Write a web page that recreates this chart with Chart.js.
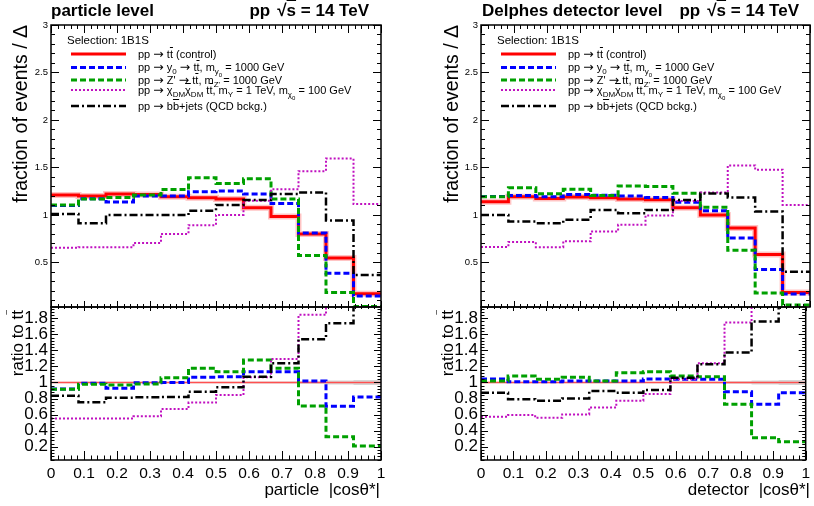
<!DOCTYPE html>
<html>
<head>
<meta charset="utf-8">
<script src="https://cdn.jsdelivr.net/npm/chart.js@4.4.1/dist/chart.umd.min.js"></script>
<style>
  body { margin: 0; background: #fff; }
  #wrap { position: relative; width: 814px; height: 506px; overflow: hidden; font-family: "Liberation Sans", Arial, sans-serif; }
  canvas { position: absolute; }
  .t { position: absolute; white-space: nowrap; line-height: 1; color: #000; }
  .b { font-weight: bold; font-size: 17px; }
  .vt { writing-mode: vertical-rl; transform: rotate(180deg); }
  .leg { font-size: 11px; }
  .o { text-decoration: overline; }
  .ar { font-family: "DejaVu Sans", sans-serif; font-size: 12.5px; }
  .gap { display: inline-block; width: 7px; }
  sub { line-height: 0; font-size: 8px; }
  sub sub { font-size: 6px; }
</style>
</head>
<body>
<div id="wrap">
  <canvas id="partTop" width="407" height="320" style="left:0;top:0"></canvas>
  <canvas id="partRatio" width="407" height="216" style="left:0;top:290px"></canvas>
  <canvas id="detTop" width="407" height="320" style="left:407px;top:0"></canvas>
  <canvas id="detRatio" width="407" height="216" style="left:407px;top:290px"></canvas>

  <!-- left panel texts -->
  <div class="t b" style="left:51px;top:1.6px">particle level</div>
  <div class="t b" style="right:445px;top:1.6px">pp<span class="gap"></span>√<span class="o">s</span> = 14 TeV</div>
  <div class="t vt" style="left:11px;top:25px;font-size:19.5px">fraction of events / Δ</div>
  <div class="t vt" style="left:9px;top:310px;font-size:17px">ratio to t<span class="o">t</span></div>
  <div class="t" style="right:434px;top:480.6px;font-size:17px">particle &nbsp;|cosθ*|</div>
  <div class="t" style="left:67px;top:34.5px;font-size:11.5px">Selection: 1B1S</div>
  <div class="t leg" style="left:138px;top:47.7px">pp <span class="ar">→</span> t<span class="o">t</span> (control)</div>
  <div class="t leg" style="left:138px;top:61.2px">pp <span class="ar">→</span> y<sub>0</sub> <span class="ar">→</span> t<span class="o">t</span>, m<sub>y<sub>0</sub></sub> = 1000 GeV</div>
  <div class="t leg" style="left:138px;top:73.7px">pp <span class="ar">→</span> Z' <span class="ar">→</span> t<span class="o">t</span>, m<sub>Z'</sub> = 1000 GeV</div>
  <div class="t leg" style="left:138px;top:83.7px">pp <span class="ar">→</span> χ<sub>DM</sub><span class="o">χ</span><sub>DM</sub> t<span class="o">t</span>, m<sub>Y</sub> = 1 TeV, m<sub>χ<sub>0</sub></sub> = 100 GeV</div>
  <div class="t leg" style="left:138px;top:99.7px">pp <span class="ar">→</span> b<span class="o">b</span>+jets (QCD bckg.)</div>

  <!-- right panel texts -->
  <div class="t b" style="left:482px;top:1.6px">Delphes detector level</div>
  <div class="t b" style="right:15px;top:1.6px">pp<span class="gap"></span>√<span class="o">s</span> = 14 TeV</div>
  <div class="t vt" style="left:442px;top:25px;font-size:19.5px">fraction of events / Δ</div>
  <div class="t vt" style="left:439px;top:310px;font-size:17px">ratio to t<span class="o">t</span></div>
  <div class="t" style="right:4px;top:480.6px;font-size:17px">detector &nbsp;|cosθ*|</div>
  <div class="t" style="left:497px;top:34.5px;font-size:11.5px">Selection: 1B1S</div>
  <div class="t leg" style="left:568px;top:47.7px">pp <span class="ar">→</span> t<span class="o">t</span> (control)</div>
  <div class="t leg" style="left:568px;top:61.2px">pp <span class="ar">→</span> y<sub>0</sub> <span class="ar">→</span> t<span class="o">t</span>, m<sub>y<sub>0</sub></sub> = 1000 GeV</div>
  <div class="t leg" style="left:568px;top:73.7px">pp <span class="ar">→</span> Z' <span class="ar">→</span> t<span class="o">t</span>, m<sub>Z'</sub> = 1000 GeV</div>
  <div class="t leg" style="left:568px;top:83.7px">pp <span class="ar">→</span> χ<sub>DM</sub><span class="o">χ</span><sub>DM</sub> t<span class="o">t</span>, m<sub>Y</sub> = 1 TeV, m<sub>χ<sub>0</sub></sub> = 100 GeV</div>
  <div class="t leg" style="left:568px;top:99.7px">pp <span class="ar">→</span> b<span class="o">b</span>+jets (QCD bckg.)</div>
</div>

<script>
// Binning in |cos theta*| (12 equal bins) and axis ticks
const binEdges = [0, 0.0833, 0.1667, 0.25, 0.3333, 0.4167, 0.5, 0.5833, 0.6667, 0.75, 0.8333, 0.9167, 1];
const xTickValues = [0, 0.1, 0.2, 0.3, 0.4, 0.5, 0.6, 0.7, 0.8, 0.9, 1];
const topYTicks = [0.5, 1, 1.5, 2, 2.5, 3];
const ratioYTicks = [0.2, 0.4, 0.6, 0.8, 1, 1.2, 1.4, 1.6, 1.8];

// Particle level, fraction of events / bin width
const partControl = [1.21, 1.20, 1.22, 1.215, 1.19, 1.18, 1.167, 1.076, 0.983, 0.80, 0.545, 0.17];
const partY0 = [1.10, 1.17, 1.135, 1.20, 1.20, 1.243, 1.253, 1.219, 1.12, 0.81, 0.385, 0.146];
const partZprime = [1.104, 1.167, 1.184, 1.21, 1.267, 1.392, 1.33, 1.382, 1.167, 0.573, 0.184, 0.036];
const partDM = [0.653, 0.66, 0.66, 0.705, 0.80, 0.892, 1.0, 1.149, 1.27, 1.46, 1.594, 1.115];
const partBB = [1.01, 0.913, 1.0, 1.0, 1.0, 1.045, 1.104, 1.156, 1.219, 1.236, 0.94, 0.368];

// Particle level, ratio to ttbar
const partRatioY0 = [0.92, 0.99, 0.927, 0.998, 1.0, 1.065, 1.07, 1.135, 1.135, 1.02, 0.703, 0.82];
const partRatioZprime = [0.915, 0.977, 0.97, 0.98, 1.06, 1.177, 1.135, 1.28, 1.177, 0.707, 0.325, 0.21];
const partRatioDM = [0.553, 0.553, 0.553, 0.58, 0.67, 0.75, 0.844, 1.065, 1.293, 1.842, 2.92, 6.5];
const partRatioBB = [0.836, 0.753, 0.81, 0.815, 0.82, 0.885, 0.94, 1.07, 1.24, 1.54, 1.737, 2.16];

// Delphes detector level, fraction of events / bin width
const detControl = [1.139, 1.19, 1.174, 1.188, 1.18, 1.167, 1.16, 1.076, 1.0, 0.861, 0.583, 0.184];
const detY0 = [1.194, 1.205, 1.19, 1.215, 1.208, 1.2, 1.184, 1.132, 1.045, 0.757, 0.424, 0.167];
const detZprime = [1.19, 1.285, 1.222, 1.27, 1.205, 1.305, 1.30, 1.229, 1.08, 0.628, 0.177, 0.05];
const detDM = [0.663, 0.715, 0.66, 0.722, 0.826, 0.896, 0.993, 1.146, 1.236, 1.52, 1.476, 1.104];
const detBB = [1.0, 0.93, 0.913, 0.948, 1.052, 1.017, 1.052, 1.156, 1.226, 1.184, 1.035, 0.40];

// Delphes detector level, ratio to ttbar
const detRatioY0 = [1.044, 1.01, 1.01, 1.02, 1.02, 1.02, 1.044, 1.04, 1.04, 0.886, 0.73, 0.873];
const detRatioZprime = [1.02, 1.08, 1.04, 1.065, 1.02, 1.12, 1.135, 1.08, 1.07, 0.728, 0.312, 0.262];
const detRatioDM = [0.574, 0.595, 0.56, 0.603, 0.69, 0.774, 0.857, 1.04, 1.24, 1.746, 2.53, 6.0];
const detRatioBB = [0.873, 0.79, 0.774, 0.8, 0.894, 0.873, 0.907, 1.06, 1.227, 1.372, 1.758, 2.17];

// control sample in the ratio pad, with its uncertainty band
const ratioControl = [1, 1, 1, 1, 1, 1, 1, 1, 1, 1, 1, 1];
const ratioBandHi = [1.01, 1.01, 1.01, 1.01, 1.01, 1.01, 1.01, 1.012, 1.012, 1.015, 1.025, 1.03];
const ratioBandLo = [0.99, 0.99, 0.99, 0.99, 0.99, 0.99, 0.99, 0.988, 0.988, 0.985, 0.975, 0.97];

const FONT = '"Liberation Sans", Arial, sans-serif';

const lineStyles = {
    control: { borderColor: "#ff0000", borderWidth: 3, borderDash: [] },
    y0: { borderColor: "#0000ff", borderWidth: 3, borderDash: [6, 3] },
    zprime: { borderColor: "#00a000", borderWidth: 3, borderDash: [6, 3] },
    dm: { borderColor: "#c010c0", borderWidth: 2, borderDash: [2, 2] },
    bb: { borderColor: "#000000", borderWidth: 2.5, borderDash: [8, 3, 2, 3] }
};
const legendOrder = ["control", "y0", "zprime", "dm", "bb"];
const legendLineY = [54, 67.5, 80, 90, 106];

// histogram outline: two points per bin
function histo(values) {
    const pts = [];
    values.forEach((v, i) => {
        pts.push({ x: binEdges[i], y: v }, { x: binEdges[i + 1], y: v });
    });
    return pts;
}

function ds(values, style, order) {
    return Object.assign({
        data: histo(values),
        pointRadius: 0,
        fill: false,
        tension: 0,
        borderCapStyle: "butt",
        order: order
    }, style);
}

// ROOT-like frame with inward ticks on all four sides
const rootFrame = {
    id: "rootFrame",
    afterDatasetsDraw(chart, args, o) {
        const ctx = chart.ctx;
        const a = chart.chartArea;
        const xs = chart.scales.x;
        const ys = chart.scales.y;
        ctx.save();
        ctx.strokeStyle = "#000";
        ctx.lineWidth = 1;
        ctx.setLineDash([]);
        ctx.beginPath();
        const nx = Math.round(1 / o.xMinor);
        for (let k = 0; k <= nx; k++) {
            const px = Math.round(xs.getPixelForValue(k * o.xMinor)) + 0.5;
            const major = k % o.xPer === 0;
            const lb = major ? o.xBottom : o.xBottom / 2;
            const lt = major ? o.xTop : o.xTop / 2;
            ctx.moveTo(px, a.bottom);
            ctx.lineTo(px, a.bottom - lb);
            ctx.moveTo(px, a.top);
            ctx.lineTo(px, a.top + lt);
        }
        const k0 = Math.ceil(ys.min / o.yMinor - 1e-6);
        const k1 = Math.floor(ys.max / o.yMinor + 1e-6);
        for (let k = k0; k <= k1; k++) {
            const py = Math.round(ys.getPixelForValue(k * o.yMinor)) + 0.5;
            const len = k % o.yPer === 0 ? o.yMajor : o.yMajor / 2;
            ctx.moveTo(a.left, py);
            ctx.lineTo(a.left + len, py);
            ctx.moveTo(a.right, py);
            ctx.lineTo(a.right - len, py);
        }
        ctx.stroke();
        ctx.lineWidth = 1.5;
        ctx.strokeRect(a.left, a.top, a.width, a.height);
        ctx.restore();
    }
};

// legend sample lines (texts are html)
const legendLines = {
    id: "legendLines",
    afterDatasetsDraw(chart) {
        const ctx = chart.ctx;
        const x0 = chart.chartArea.left + 20;
        ctx.save();
        legendOrder.forEach((key, i) => {
            const st = lineStyles[key];
            ctx.strokeStyle = st.borderColor;
            ctx.lineWidth = st.borderWidth;
            ctx.setLineDash(st.borderDash);
            ctx.beginPath();
            ctx.moveTo(x0, legendLineY[i]);
            ctx.lineTo(x0 + 55, legendLineY[i]);
            ctx.stroke();
        });
        ctx.restore();
    }
};

function makeChart(id, datasets, cfg) {
    return new Chart(document.getElementById(id), {
        type: "line",
        data: { datasets: datasets },
        options: {
            responsive: false,
            animation: false,
            events: [],
            layout: { padding: cfg.padding },
            plugins: {
                legend: { display: false },
                tooltip: { enabled: false },
                rootFrame: cfg.frame
            },
            scales: {
                x: {
                    type: "linear",
                    min: 0,
                    max: 1,
                    display: cfg.showX,
                    grid: { display: false, drawTicks: false },
                    border: { display: false },
                    afterBuildTicks: (s) => { s.ticks = xTickValues.map((v) => ({ value: v })); },
                    afterFit: (s) => { s.height = cfg.xHeight; },
                    ticks: {
                        autoSkip: false,
                        maxRotation: 0,
                        padding: 4,
                        color: "#000",
                        font: { family: FONT, size: 15.5 },
                        callback: (v) => String(v)
                    }
                },
                y: {
                    type: "linear",
                    min: cfg.yMin,
                    max: cfg.yMax,
                    grid: { display: false, drawTicks: false },
                    border: { display: false },
                    afterBuildTicks: (s) => { s.ticks = cfg.yTicks.map((v) => ({ value: v })); },
                    afterFit: (s) => { s.width = cfg.yWidth; },
                    ticks: {
                        autoSkip: false,
                        padding: 3,
                        color: "#000",
                        font: { family: FONT, size: cfg.yFont },
                        callback: (v) => String(v)
                    }
                }
            }
        },
        plugins: cfg.legend ? [rootFrame, legendLines] : [rootFrame]
    });
}

function topDatasets(control, y0, zp, dm, bb) {
    return [
        ds(control, { borderColor: "rgba(255,60,60,0.3)", borderWidth: 6, borderDash: [] }, 7),
        ds(control, lineStyles.control, 5),
        ds(y0, lineStyles.y0, 4),
        ds(zp, lineStyles.zprime, 3),
        ds(dm, lineStyles.dm, 2),
        ds(bb, lineStyles.bb, 1)
    ];
}

function ratioDatasets(y0, zp, dm, bb) {
    return [
        { data: histo(ratioBandHi), borderWidth: 0, pointRadius: 0, fill: "+1", backgroundColor: "rgba(150,150,150,0.4)", order: 9 },
        { data: histo(ratioBandLo), borderWidth: 0, pointRadius: 0, fill: false, order: 10 },
        ds(ratioControl, { borderColor: "#ff5050", borderWidth: 1.5, borderDash: [] }, 6),
        ds(y0, lineStyles.y0, 4),
        ds(zp, lineStyles.zprime, 3),
        ds(dm, lineStyles.dm, 2),
        ds(bb, lineStyles.bb, 1)
    ];
}

const topFrame = { xMinor: 0.02, xPer: 5, xBottom: 6, xTop: 8, yMinor: 0.1, yPer: 5, yMajor: 8 };
const ratioFrame = { xMinor: 0.02, xPer: 5, xBottom: 9, xTop: 4, yMinor: 0.04, yPer: 5, yMajor: 7 };

makeChart("partTop", topDatasets(partControl, partY0, partZprime, partDM, partBB), {
    padding: { top: 25, bottom: 13, left: 0, right: 26 },
    showX: false, xHeight: 0, yMin: 0.03, yMax: 3, yTicks: topYTicks, yWidth: 51, yFont: 9.5,
    frame: topFrame, legend: true
});
makeChart("partRatio", ratioDatasets(partRatioY0, partRatioZprime, partRatioDM, partRatioBB), {
    padding: { top: 17, bottom: 0, left: 0, right: 26 },
    showX: true, xHeight: 46, yMin: 0.035, yMax: 1.94, yTicks: ratioYTicks, yWidth: 51, yFont: 17,
    frame: ratioFrame, legend: false
});
makeChart("detTop", topDatasets(detControl, detY0, detZprime, detDM, detBB), {
    padding: { top: 25, bottom: 13, left: 0, right: 4 },
    showX: false, xHeight: 0, yMin: 0.03, yMax: 3, yTicks: topYTicks, yWidth: 74, yFont: 9.5,
    frame: topFrame, legend: true
});
makeChart("detRatio", ratioDatasets(detRatioY0, detRatioZprime, detRatioDM, detRatioBB), {
    padding: { top: 17, bottom: 0, left: 0, right: 4 },
    showX: true, xHeight: 46, yMin: 0.035, yMax: 1.94, yTicks: ratioYTicks, yWidth: 74, yFont: 17,
    frame: ratioFrame, legend: false
});
</script>
</body>
</html>
